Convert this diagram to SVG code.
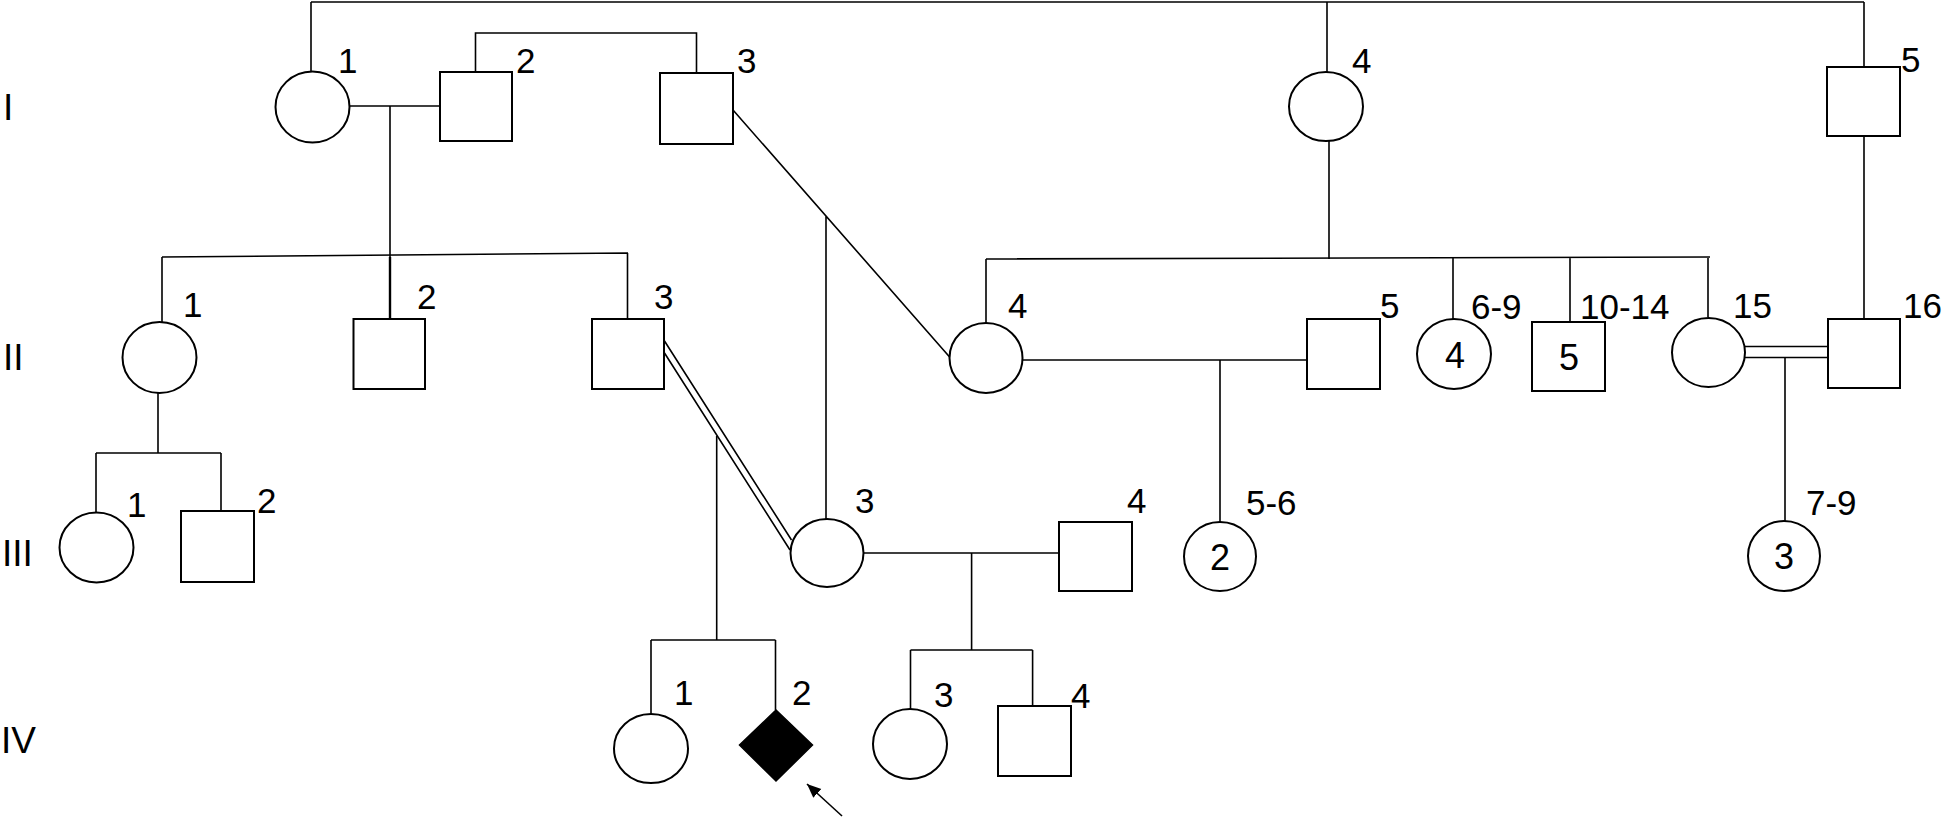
<svg xmlns="http://www.w3.org/2000/svg" width="1944" height="819" viewBox="0 0 1944 819">
<style>
.shape{fill:#fff;stroke:#000;stroke-width:2}
.aff{fill:#000;stroke:#000;stroke-width:1.5}
.ln{fill:none;stroke:#000;stroke-width:1.6}
.lbl{font-family:"Liberation Sans",Arial,sans-serif;font-size:35px;fill:#000}
.in{font-family:"Liberation Sans",Arial,sans-serif;font-size:36px;fill:#000;text-anchor:middle;dominant-baseline:central}
.gen{font-family:"Liberation Sans",Arial,sans-serif;font-size:37px;fill:#000}
</style>
<defs>
<marker id="ah" markerUnits="userSpaceOnUse" markerWidth="16" markerHeight="14" refX="14" refY="6" orient="auto">
<path d="M0,0 L14,6 L0,12 Z" fill="#000"/>
</marker>
</defs>
<rect width="1944" height="819" fill="#fff"/>
<g id="generations">
<text class="gen" x="3" y="120">I</text>
<text class="gen" x="3" y="370">II</text>
<text class="gen" x="2" y="566">III</text>
<text class="gen" x="1" y="753">IV</text>
</g>
<g id="connectors">
<path class="ln" d="M311,2 H1864 M311,2 V72 M1327,2 V72 M1864,2 V67"/>
<path class="ln" d="M475.5,72 V33 H696.5 V73"/>
<path class="ln" d="M349.5,106 H440 M390,106 V257"/>
<path class="ln" d="M733,110 L949.6,357 M826,216 V519"/>
<path class="ln" d="M1329,141 V259 M1864,136 V319"/>
<path class="ln" d="M162,257 L628,253 M162,257 V322 M627.5,253 V319"/>
<path class="ln" d="M390,257 V319" style="stroke-width:2.4"/>
<path class="ln" d="M986,259 L1710,257 M986,259 V323 M1453,258 V319 M1570,258 V322 M1708,257 V317"/>
<path class="ln" d="M1022.5,360 H1307 M1220,360 V522"/>
<path class="ln" d="M1745,346.5 H1829 M1745,357.5 H1829 M1785,357.5 V521"/>
<path class="ln" d="M664.5,341 L791.5,540 M664.5,353 L790,550"/>
<path class="ln" d="M716.7,436 V640 M651,640 H775.5 M651,640 V714 M775.5,640 V710"/>
<path class="ln" d="M158,393 V453 M96,453 H221 M96,453 V512.5 M221,453 V511"/>
<path class="ln" d="M863,553 H1059 M971.6,553 V650 M910.5,650 H1032.6 M910.5,650 V709 M1032.6,650 V706"/>
<path class="ln" d="M842,816 L807,784" marker-end="url(#ah)"/>
</g>
<g id="I-1"><ellipse class="shape" cx="312.5" cy="107" rx="37" ry="35.5"/><text class="lbl" x="338" y="73">1</text></g>
<g id="I-2"><rect class="shape" x="440" y="72" width="72" height="69"/><text class="lbl" x="516" y="73">2</text></g>
<g id="I-3"><rect class="shape" x="660" y="73" width="73" height="71"/><text class="lbl" x="737" y="73">3</text></g>
<g id="I-4"><ellipse class="shape" cx="1326" cy="106.5" rx="37" ry="34.5"/><text class="lbl" x="1352" y="73">4</text></g>
<g id="I-5"><rect class="shape" x="1827" y="67" width="73" height="69"/><text class="lbl" x="1901" y="72">5</text></g>
<g id="II-1"><ellipse class="shape" cx="159.5" cy="357.5" rx="37" ry="35.5"/><text class="lbl" x="183" y="317">1</text></g>
<g id="II-2"><rect class="shape" x="353.5" y="319" width="71.5" height="70"/><text class="lbl" x="417" y="309">2</text></g>
<g id="II-3"><rect class="shape" x="592" y="319" width="72" height="70"/><text class="lbl" x="654" y="309">3</text></g>
<g id="II-4"><ellipse class="shape" cx="986" cy="358" rx="36.5" ry="35"/><text class="lbl" x="1008" y="318">4</text></g>
<g id="II-5"><rect class="shape" x="1307" y="319" width="73" height="70"/><text class="lbl" x="1380" y="318">5</text></g>
<g id="II-6-9"><ellipse class="shape" cx="1454" cy="354" rx="37" ry="35"/><text class="in" x="1455" y="355">4</text><text class="lbl" x="1471" y="319">6-9</text></g>
<g id="II-10-14"><rect class="shape" x="1532" y="322" width="73" height="69"/><text class="in" x="1569" y="357">5</text><text class="lbl" x="1580" y="319">10-14</text></g>
<g id="II-15"><ellipse class="shape" cx="1708.5" cy="352.5" rx="36.5" ry="34.5"/><text class="lbl" x="1733" y="318">15</text></g>
<g id="II-16"><rect class="shape" x="1828" y="319" width="72" height="69"/><text class="lbl" x="1903" y="318">16</text></g>
<g id="III-1"><ellipse class="shape" cx="96.5" cy="547.5" rx="37" ry="35"/><text class="lbl" x="127" y="517">1</text></g>
<g id="III-2"><rect class="shape" x="181" y="511" width="73" height="71"/><text class="lbl" x="257" y="513">2</text></g>
<g id="III-3"><ellipse class="shape" cx="827" cy="553" rx="36.5" ry="34"/><text class="lbl" x="855" y="513">3</text></g>
<g id="III-4"><rect class="shape" x="1059" y="522" width="73" height="69"/><text class="lbl" x="1127" y="513">4</text></g>
<g id="III-5-6"><ellipse class="shape" cx="1220" cy="556.5" rx="36" ry="34.5"/><text class="in" x="1220" y="557">2</text><text class="lbl" x="1246" y="515">5-6</text></g>
<g id="III-7-9"><ellipse class="shape" cx="1784" cy="556" rx="36" ry="35"/><text class="in" x="1784" y="556">3</text><text class="lbl" x="1806" y="515">7-9</text></g>
<g id="IV-1"><ellipse class="shape" cx="651" cy="748.5" rx="37" ry="34.5"/><text class="lbl" x="674" y="705">1</text></g>
<g id="IV-2"><polygon class="aff" points="776,710 812.5,745 776,781 739.5,745"/><text class="lbl" x="792" y="705">2</text></g>
<g id="IV-3"><ellipse class="shape" cx="910" cy="744" rx="37" ry="35"/><text class="lbl" x="934" y="707">3</text></g>
<g id="IV-4"><rect class="shape" x="998" y="706" width="73" height="70"/><text class="lbl" x="1071" y="708">4</text></g>
</svg>
